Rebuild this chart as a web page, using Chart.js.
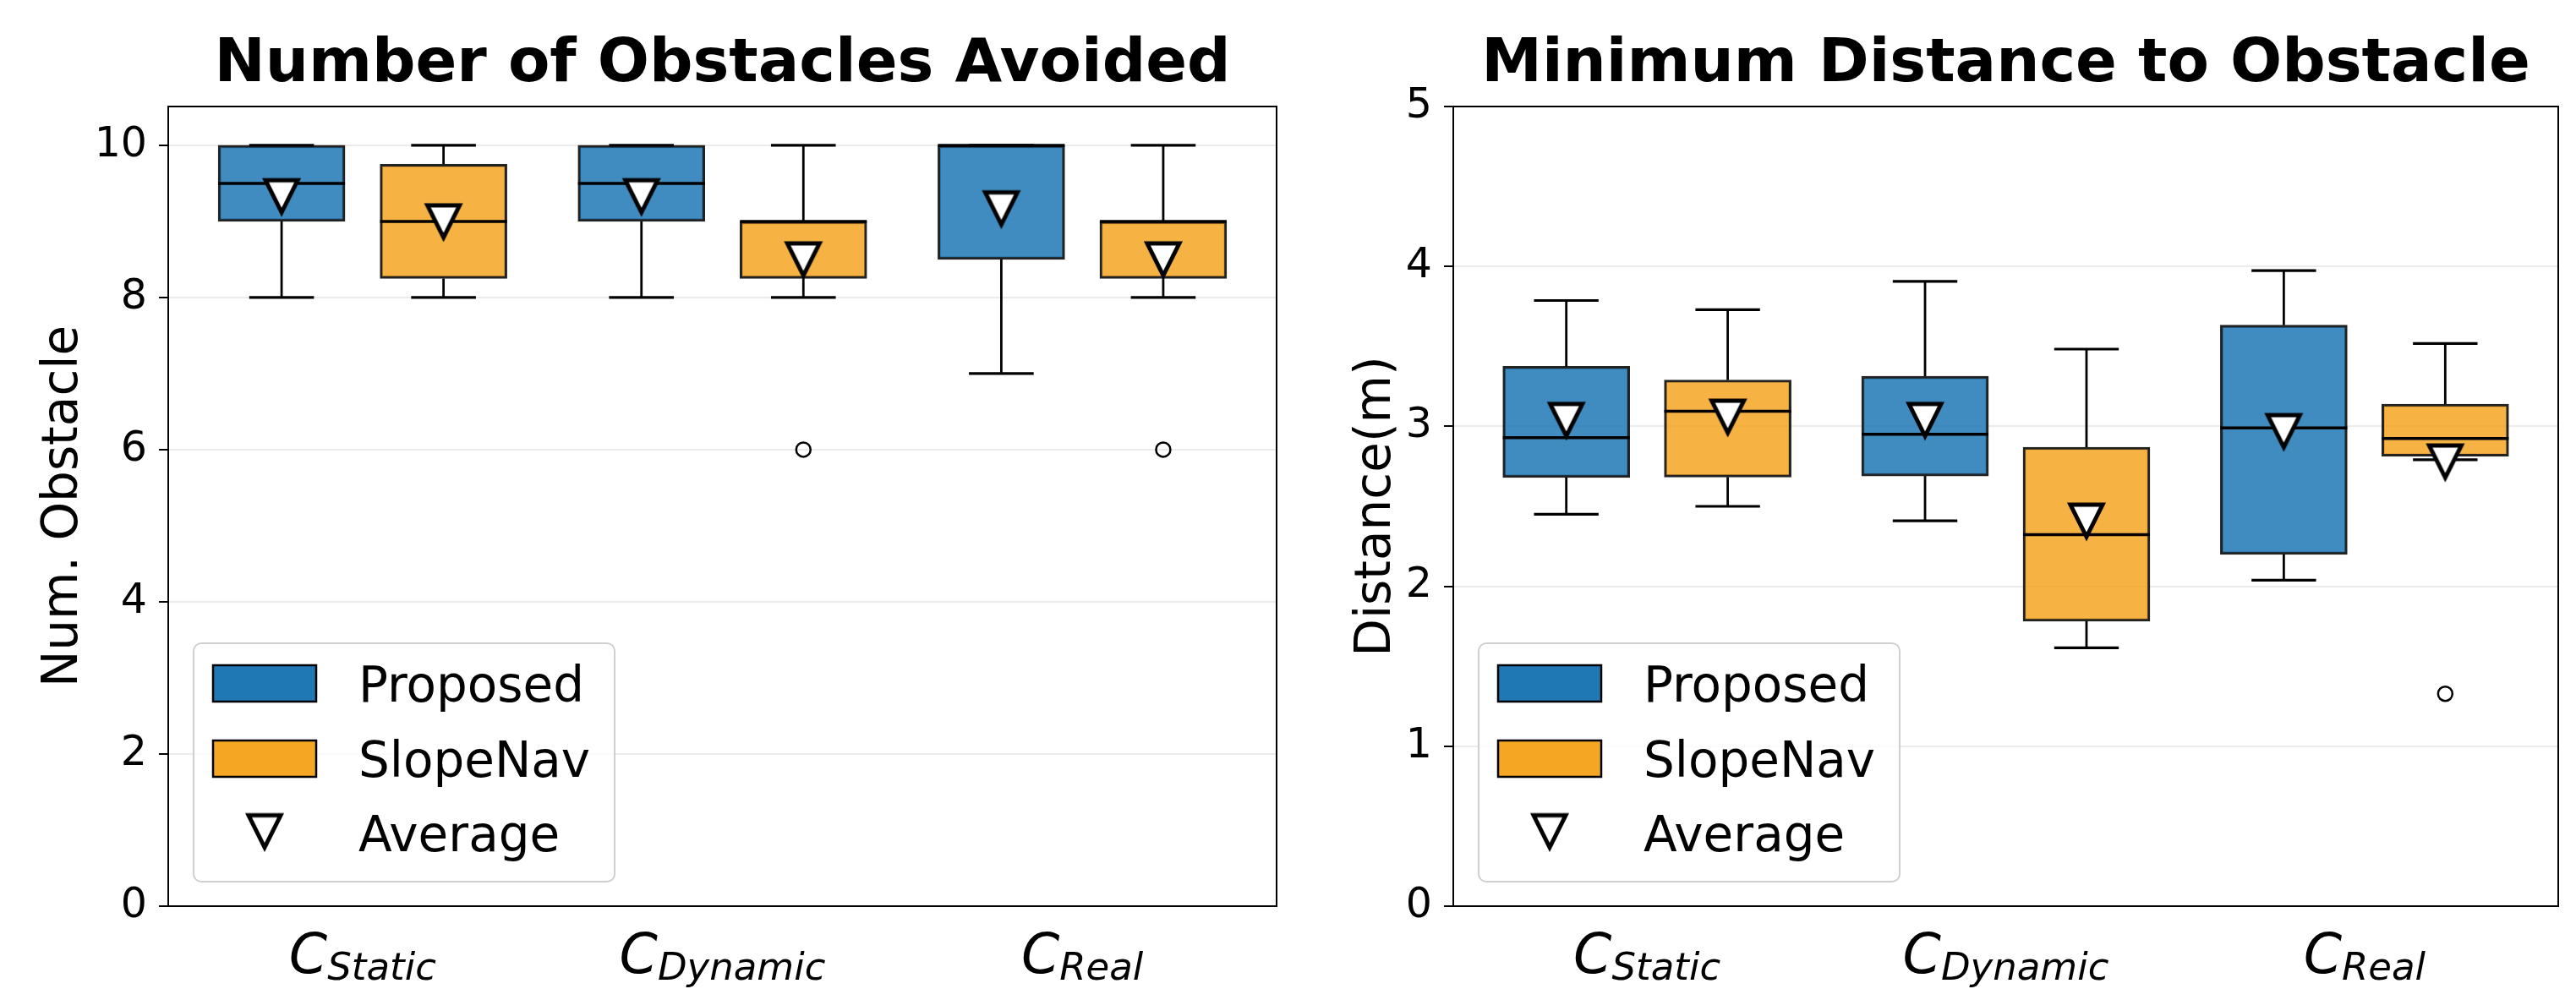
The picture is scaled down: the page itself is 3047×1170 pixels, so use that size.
<!DOCTYPE html>
<html>
<head>
<meta charset="utf-8">
<script src="https://cdn.jsdelivr.net/npm/chart.js@4.4.1/dist/chart.umd.min.js"></script>
<style>
  html, body { margin: 0; padding: 0; background: #fff; overflow: hidden; }
  #wrap { position: relative; width: 3047px; height: 1170px; }
  .panel { position: absolute; top: 0; height: 1170px; }
</style>
</head>
<body>
<div id="wrap">
  <div class="panel" style="left:0;width:1560px"><canvas id="obstacles" width="1560" height="1170"></canvas></div>
  <div class="panel" style="left:1560px;width:1487px"><canvas id="distance" width="1487" height="1170"></canvas></div>
</div>
<script>
const FONT = '"DejaVu Sans", "Liberation Sans", sans-serif';

const categories = ['Static', 'Dynamic', 'Real'];
const positions = [1, 2, 3];
const seriesNames = ['Proposed', 'SlopeNav'];

// [lower whisker, Q1, median, Q3, upper whisker] for each category
const obstaclesProposed = [[8, 9, 9.5, 10, 10], [8, 9, 9.5, 10, 10], [7, 8.5, 10, 10, 10]];
const obstaclesSlopeNav = [[8, 8.25, 9, 9.75, 10], [8, 8.25, 9, 9, 10], [8, 8.25, 9, 9, 10]];
const obstaclesMeanProposed = [9.33, 9.33, 9.17];
const obstaclesMeanSlopeNav = [9.0, 8.5, 8.5];
const obstaclesOutProposed = [[], [], []];
const obstaclesOutSlopeNav = [[], [6], [6]];
const obstaclesTicks = [0, 2, 4, 6, 8, 10];

const distanceProposed = [[2.45, 2.68, 2.93, 3.375, 3.787], [2.41, 2.69, 2.95, 3.313, 3.907], [2.038, 2.199, 2.99, 3.633, 3.974]];
const distanceSlopeNav = [[2.50, 2.683, 3.095, 3.29, 3.73], [1.615, 1.782, 2.323, 2.87, 3.483], [2.791, 2.813, 2.924, 3.139, 3.518]];
const distanceMeanProposed = [3.04, 3.04, 2.97];
const distanceMeanSlopeNav = [3.06, 2.41, 2.78];
const distanceOutProposed = [[], [], []];
const distanceOutSlopeNav = [[], [], [1.328]];
const distanceTicks = [0, 1, 2, 3, 4, 5];

// styling
const offsets = [-0.225, 0.225];
const patchColors = ['#1f77b4', '#f5a623'];
const boxFills = ['rgba(31,119,180,0.85)', 'rgba(245,166,35,0.85)'];
const capHalf = 0.09;

function makeTriangle() {
  const c = document.createElement('canvas');
  c.width = 64; c.height = 64;
  const g = c.getContext('2d');
  g.beginPath();
  g.moveTo(13, 13); g.lineTo(51, 13); g.lineTo(32, 51); g.closePath();
  g.fillStyle = '#fff'; g.fill();
  g.lineWidth = 5; g.lineJoin = 'miter'; g.strokeStyle = '#000'; g.stroke();
  return c;
}
const triangle = makeTriangle();

function line(ctx, x1, y1, x2, y2) {
  ctx.beginPath(); ctx.moveTo(x1, y1); ctx.lineTo(x2, y2); ctx.stroke();
}

// whiskers, caps and medians, drawn right after each box dataset
const whiskerPlugin = {
  id: 'whiskers',
  afterDatasetDraw(chart, args) {
    const ds = chart.data.datasets[args.index];
    if (!ds.stats) return;
    const ctx = chart.ctx, xs = chart.scales.x, ys = chart.scales.y;
    ctx.save();
    ctx.strokeStyle = '#000';
    args.meta.data.forEach((bar, i) => {
      const [lo, q1, med, q3, hi] = ds.stats[i];
      const xv = ds.data[i].x;
      const cx = bar.x;
      const cl = xs.getPixelForValue(xv - capHalf), cr = xs.getPixelForValue(xv + capHalf);
      ctx.lineWidth = 2.8;
      line(ctx, cx, ys.getPixelForValue(q3), cx, ys.getPixelForValue(hi));
      line(ctx, cx, ys.getPixelForValue(q1), cx, ys.getPixelForValue(lo));
      ctx.lineWidth = 3.2;
      line(ctx, cl, ys.getPixelForValue(hi), cr, ys.getPixelForValue(hi));
      line(ctx, cl, ys.getPixelForValue(lo), cr, ys.getPixelForValue(lo));
      ctx.lineWidth = 3.5;
      line(ctx, bar.x - bar.width / 2, ys.getPixelForValue(med), bar.x + bar.width / 2, ys.getPixelForValue(med));
    });
    ctx.restore();
  }
};

// top/right spines, math tick labels and the legend box
const decorPlugin = {
  id: 'decor',
  afterDraw(chart) {
    const { ctx, chartArea: a } = chart;
    const xs = chart.scales.x;
    ctx.save();
    ctx.strokeStyle = '#000';
    ctx.lineWidth = 2;
    line(ctx, a.left - 1, a.top, a.right + 1, a.top);
    line(ctx, a.right, a.top, a.right, a.bottom);

    // C_{...} labels
    ctx.fillStyle = '#000';
    ctx.textBaseline = 'alphabetic';
    ctx.textAlign = 'left';
    positions.forEach((p, i) => {
      const cx = xs.getPixelForValue(p);
      ctx.font = 'italic 65px ' + FONT;
      const wC = ctx.measureText('C').width;
      ctx.font = 'italic 45px ' + FONT;
      const wS = ctx.measureText(categories[i]).width;
      const x0 = cx - (wC + wS) / 2;
      ctx.font = 'italic 65px ' + FONT;
      ctx.fillText('C', x0, a.bottom + 79);
      ctx.font = 'italic 45px ' + FONT;
      ctx.fillText(categories[i], x0 + wC, a.bottom + 87);
    });

    // legend
    const L = a.left, B = a.bottom;
    const fx = L + 30, fy = B - 311, fw = 498, fh = 282, r = 9;
    ctx.beginPath();
    ctx.moveTo(fx + r, fy);
    ctx.arcTo(fx + fw, fy, fx + fw, fy + fh, r);
    ctx.arcTo(fx + fw, fy + fh, fx, fy + fh, r);
    ctx.arcTo(fx, fy + fh, fx, fy, r);
    ctx.arcTo(fx, fy, fx + fw, fy, r);
    ctx.closePath();
    ctx.fillStyle = 'rgba(255,255,255,0.8)';
    ctx.fill();
    ctx.strokeStyle = '#cfcfcf';
    ctx.lineWidth = 2;
    ctx.stroke();

    const rows = [B - 242, B - 153, B - 65];
    ctx.lineWidth = 2.5;
    ctx.strokeStyle = '#000';
    [0, 1].forEach(k => {
      ctx.fillStyle = patchColors[k];
      ctx.fillRect(L + 53, rows[k] - 43, 122, 43);
      ctx.strokeRect(L + 53, rows[k] - 43, 122, 43);
    });
    ctx.drawImage(triangle, L + 114 - 32, B - 88.5 - 32);
    ctx.fillStyle = '#000';
    ctx.font = '58px ' + FONT;
    const labels = seriesNames.concat(['Average']);
    labels.forEach((t, k) => ctx.fillText(t, L + 225, rows[k]));
    ctx.restore();
  }
};

function boxDataset(idx, stats) {
  return {
    type: 'bar',
    label: seriesNames[idx],
    data: stats.map((s, i) => ({ x: positions[i] + offsets[idx], y: [s[1], s[3]] })),
    stats: stats,
    backgroundColor: boxFills[idx],
    borderColor: '#222',
    borderWidth: 3,
    borderSkipped: false,
    barThickness: 150,
    grouped: false,
    order: 2 + idx
  };
}

function pointsFrom(lists) {
  const pts = [];
  lists.forEach((vals, idx) => vals.forEach((v, i) => {
    [].concat(v).forEach(y => pts.push({ x: positions[i] + offsets[idx], y: y }));
  }));
  return pts;
}

function makeChart(id, o) {
  return new Chart(document.getElementById(id), {
    type: 'bar',
    data: {
      datasets: [
        {
          type: 'scatter', label: 'Average', order: 0,
          data: pointsFrom([o.meanA, o.meanB]),
          pointStyle: triangle, radius: 20, hoverRadius: 20
        },
        {
          type: 'scatter', label: 'outliers', order: 1,
          data: pointsFrom([o.outA, o.outB]),
          pointStyle: 'circle', radius: 8.5, hoverRadius: 8.5,
          backgroundColor: 'rgba(0,0,0,0)', borderColor: '#000', borderWidth: 2.5
        },
        boxDataset(0, o.boxA),
        boxDataset(1, o.boxB)
      ]
    },
    options: {
      responsive: false,
      animation: false,
      devicePixelRatio: 1,
      layout: { padding: { left: 0, right: o.padRight, top: 0, bottom: 0 } },
      plugins: {
        legend: { display: false },
        tooltip: { enabled: false },
        title: {
          display: true, text: o.title, color: '#000', fullSize: false,
          font: { family: FONT, size: 72, weight: 'bold', lineHeight: 1.2 },
          padding: { top: 34, bottom: 126 - 86.4 - 34 }
        }
      },
      scales: {
        x: {
          type: 'linear', min: 0.46, max: 3.54, offset: false,
          grid: { display: false },
          border: { display: true, color: '#000', width: 2 },
          ticks: { display: false },
          afterFit: s => { s.height = 98; }
        },
        y: {
          type: 'linear', min: 0, max: o.yMax,
          afterBuildTicks: s => { s.ticks = o.ticks.map(v => ({ value: v })); },
          grid: { color: '#ebebeb', lineWidth: 2, tickColor: '#000', tickLength: 11, tickWidth: 2 },
          border: { display: true, color: '#000', width: 2 },
          ticks: { color: '#000', font: { family: FONT, size: 49 }, padding: 14 },
          title: {
            display: true, text: o.yLabel, color: '#000',
            font: { family: FONT, size: 58, lineHeight: 1.2 },
            padding: { top: o.yTitlePad, bottom: 0 }
          },
          afterFit: s => { s.width = o.yWidth; }
        }
      }
    },
    plugins: [whiskerPlugin, decorPlugin]
  });
}

makeChart('obstacles', {
  title: 'Number of Obstacles Avoided', yLabel: 'Num. Obstacle',
  boxA: obstaclesProposed, boxB: obstaclesSlopeNav,
  meanA: obstaclesMeanProposed, meanB: obstaclesMeanSlopeNav,
  outA: obstaclesOutProposed, outB: obstaclesOutSlopeNav,
  ticks: obstaclesTicks, yMax: 10.51,
  yWidth: 199, padRight: 50, yTitlePad: 41
});

makeChart('distance', {
  title: 'Minimum Distance to Obstacle', yLabel: 'Distance(m)',
  boxA: distanceProposed, boxB: distanceSlopeNav,
  meanA: distanceMeanProposed, meanB: distanceMeanSlopeNav,
  outA: distanceOutProposed, outB: distanceOutSlopeNav,
  ticks: distanceTicks, yMax: 5,
  yWidth: 159, padRight: 16, yTitlePad: 34
});
</script>
</body>
</html>
